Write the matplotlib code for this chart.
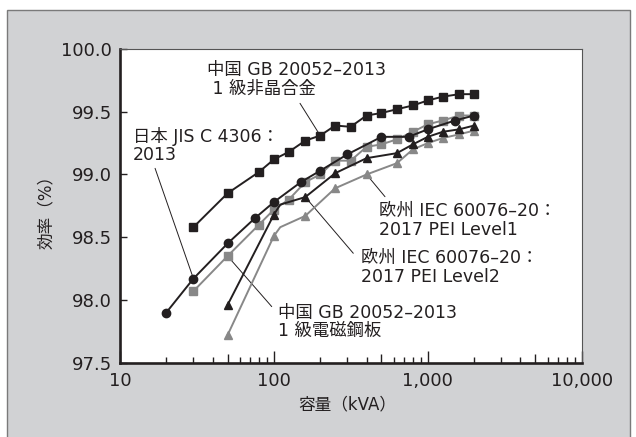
import numpy as np
import matplotlib
matplotlib.use("Agg")
import matplotlib.pyplot as plt
from matplotlib.patches import Rectangle
from matplotlib.ticker import FixedLocator, FuncFormatter, NullFormatter

plt.rcParams['font.family'] = ['DejaVu Sans', 'Noto Sans CJK JP']

# transformer efficiency limits by capacity (kVA -> %)
cn_amorph_kva = [30, 50, 80, 100, 125, 160, 200, 250, 315, 400, 500, 630, 800, 1000, 1250, 1600, 2000]
cn_amorph_eff = [98.58, 98.85, 99.02, 99.12, 99.18, 99.27, 99.31, 99.39, 99.38, 99.47, 99.49, 99.52,
                 99.55, 99.59, 99.62, 99.64, 99.64]

jis_kva = [20, 30, 50, 75, 100, 150, 200, 300, 500, 750, 1000, 1500, 2000]
jis_eff = [97.90, 98.17, 98.45, 98.65, 98.78, 98.94, 99.03, 99.16, 99.30, 99.30, 99.36, 99.43, 99.47]

cn_steel_kva = [30, 50, 80, 100, 125, 160, 200, 250, 315, 400, 500, 630, 800, 1000, 1250, 1600, 2000]
cn_steel_eff = [98.07, 98.35, 98.60, 98.72, 98.80, 98.94, 99.00, 99.11, 99.11, 99.22, 99.24, 99.28,
                99.34, 99.40, 99.43, 99.47, 99.47]

# the EU curves bend between 100 and 160 kVA; 110 kVA is a line vertex only
pei2_kva = [50, 100, 110, 160, 250, 400, 630, 800, 1000, 1250, 1600, 2000]
pei2_eff = [97.96, 98.68, 98.76, 98.82, 99.01, 99.13, 99.17, 99.24, 99.30, 99.34, 99.36, 99.39]

pei1_kva = [50, 100, 110, 160, 250, 400, 630, 800, 1000, 1250, 1600, 2000]
pei1_eff = [97.72, 98.51, 98.58, 98.67, 98.89, 99.00, 99.09, 99.20, 99.25, 99.29, 99.32, 99.35]
pei_marked = [0, 1, 3, 4, 5, 6, 7, 8, 9, 10, 11]

x_ticks = [10, 100, 1000, 10000]
y_ticks = [97.5, 98.0, 98.5, 99.0, 99.5, 100.0]

BLACK = '#231f20'
GRAY = '#888888'

fig = plt.figure(figsize=(6.36, 4.37), dpi=100, facecolor='white')
fig.add_artist(Rectangle((7 / 636, -0.05), 623 / 636, 1 - 10 / 437 + 0.05,
                         transform=fig.transFigure, facecolor='#d1d2d4',
                         edgecolor='#7a7a7a', linewidth=1.0, zorder=-10))

ax = fig.add_axes([120 / 636, 1 - 362.7 / 437, 461.7 / 636, 313.7 / 437])
ax.set_facecolor('white')

ax.plot(pei1_kva, pei1_eff, color=GRAY, lw=1.4, marker='^', ms=6, markevery=pei_marked, zorder=3)
ax.plot(cn_steel_kva, cn_steel_eff, color=GRAY, lw=1.4, marker='s', ms=5.5, zorder=4)
ax.plot(pei2_kva, pei2_eff, color=BLACK, lw=1.4, marker='^', ms=6, markevery=pei_marked, zorder=5)
ax.plot(jis_kva, jis_eff, color=BLACK, lw=1.4, marker='o', ms=6, zorder=6)
ax.plot(cn_amorph_kva, cn_amorph_eff, color=BLACK, lw=1.4, marker='s', ms=5.5, zorder=7)

ax.set_xscale('log')
ax.set_xlim(10, 10000)
ax.set_ylim(97.5, 100.0)

ax.xaxis.set_major_locator(FixedLocator(x_ticks))
ax.xaxis.set_major_formatter(FuncFormatter(lambda v, p: f'{int(v):,}'))
minor = [m * 10 ** e for e in range(1, 4) for m in range(2, 10)]
ax.xaxis.set_minor_locator(FixedLocator(minor))
ax.xaxis.set_minor_formatter(NullFormatter())
ax.set_yticks(y_ticks)
ax.yaxis.set_major_formatter(FuncFormatter(lambda v, p: f'{v:.1f}'))

ax.tick_params(axis='both', which='both', direction='in', colors=BLACK, labelsize=13)
ax.tick_params(axis='x', which='major', length=9, width=1, pad=6.5, top=False)
ax.tick_params(axis='x', which='minor', length=4, width=1, top=False)
ax.tick_params(axis='y', which='major', length=5, width=1, pad=6, right=False)

for side in ('left', 'bottom'):
    ax.spines[side].set_linewidth(1.9)
    ax.spines[side].set_color(BLACK)
for side in ('top', 'right'):
    ax.spines[side].set_linewidth(0.8)
    ax.spines[side].set_color('#555555')

ax.set_xlabel('容量（kVA）', fontsize=12, color=BLACK)
ax.set_ylabel('効率（%）', fontsize=12, color=BLACK)
ax.xaxis.set_label_coords(0.492, -0.105)
ax.yaxis.set_label_coords(-0.14, 0.493)

# labels with leader lines: (text, text anchor, leader start, leader end)
notes = [
    ('中国 GB 20052–2013\n 1 級非晶合金', (36.7, 99.76), (147.8, 99.567), (200, 99.31)),
    ('日本 JIS C 4306：\n2013', (12.09, 99.23), (16.9, 99.049), (30, 98.17)),
    ('欧州 IEC 60076–20：\n2017 PEI Level1', (484, 98.635), (527, 98.823), (400, 99.00)),
    ('欧州 IEC 60076–20：\n2017 PEI Level2', (366, 98.26), (328, 98.372), (160, 98.82)),
    ('中国 GB 20052–2013\n1 級電磁鋼板', (106.8, 97.825), (96.8, 97.947), (50, 98.35)),
]
for label, txt_xy, start, end in notes:
    ax.text(txt_xy[0], txt_xy[1], label, fontsize=12.5, color=BLACK, ha='left', va='center',
            linespacing=1.05, zorder=8)
    ax.annotate('', xy=end, xytext=start,
                arrowprops=dict(arrowstyle='-', color=BLACK, lw=0.7, shrinkA=0, shrinkB=0),
                zorder=2)

# the 5s get a slightly longer minor tick
fig.canvas.draw()
for tick, loc in zip(ax.xaxis.get_minor_ticks(), ax.xaxis.get_minorticklocs()):
    if round(loc / 10 ** np.floor(np.log10(loc))) == 5:
        tick.tick1line.set_markersize(6.5)

fig.savefig('out.png', dpi=100)
